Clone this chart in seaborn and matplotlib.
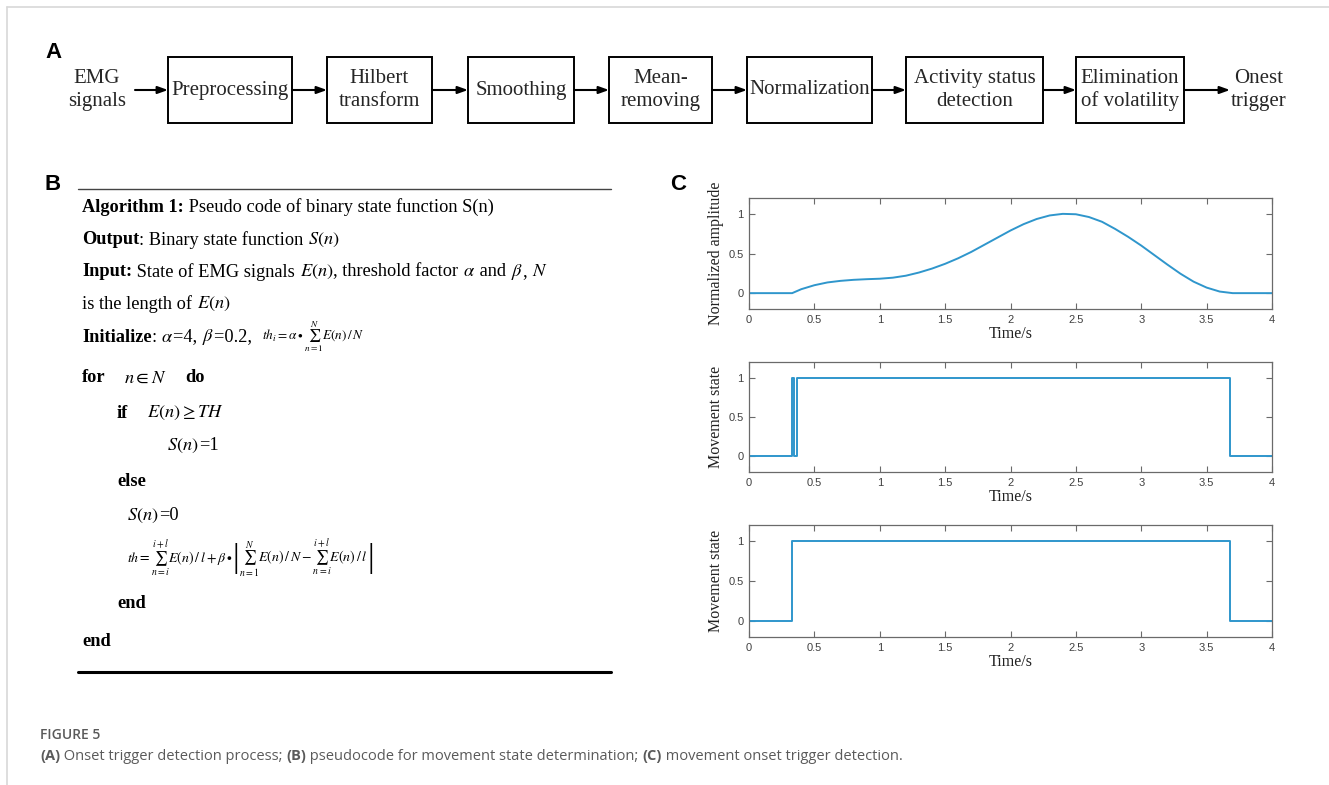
import numpy as np
import pandas as pd
import seaborn as sns
import matplotlib.pyplot as plt
from matplotlib.patches import Rectangle

# ---------------- data ----------------
flow_input = "EMG\nsignals"
flow_steps = ["Preprocessing", "Hilbert\ntransform", "Smoothing", "Mean-\nremoving",
              "Normalization", "Activity status\ndetection", "Elimination\nof volatility"]
flow_output = "Onest\ntrigger"

amp_time = [0.0, 0.33, 0.4, 0.5, 0.6, 0.7, 0.8, 0.9, 1.0, 1.1, 1.2, 1.3, 1.4, 1.5,
            1.6, 1.7, 1.8, 1.9, 2.0, 2.1, 2.2, 2.3, 2.4, 2.5, 2.6, 2.7, 2.8, 2.9,
            3.0, 3.1, 3.2, 3.3, 3.4, 3.5, 3.6, 3.7, 4.0]
amp_value = [0.0, 0.0, 0.05, 0.10, 0.135, 0.155, 0.168, 0.176, 0.182, 0.195, 0.22,
             0.26, 0.31, 0.37, 0.44, 0.52, 0.61, 0.70, 0.79, 0.87, 0.935, 0.98, 1.0,
             0.995, 0.96, 0.90, 0.81, 0.71, 0.60, 0.48, 0.36, 0.245, 0.145, 0.07,
             0.02, 0.0, 0.0]

raw_state_time = [0.0, 0.33, 0.345, 0.365, 3.68, 4.0]
raw_state = [0, 1, 0, 1, 0, 0]

final_state_time = [0.0, 0.33, 3.68, 4.0]
final_state = [0, 1, 0, 0]

x_ticks = [0, 0.5, 1, 1.5, 2, 2.5, 3, 3.5, 4]
x_tick_labels = ["0", "0.5", "1", "1.5", "2", "2.5", "3", "3.5", "4"]
y_ticks = [0, 0.5, 1]
y_tick_labels = ["0", "0.5", "1"]
x_label = "Time/s"
y_labels = ["Normalized amplitude", "Movement state", "Movement state"]

caption_title = "FIGURE 5"

# ---------------- style ----------------
sns.set_theme(style="white")
plt.rcParams["font.family"] = ["Liberation Serif", "DejaVu Serif"]
plt.rcParams["mathtext.fontset"] = "stix"

W, H = 1329, 785
fig = plt.figure(figsize=(W / 100, H / 100), dpi=100)
fig.patch.set_facecolor("white")

# overlay axes in pixel coordinates
ov = fig.add_axes([0, 0, 1, 1])
ov.set_xlim(0, W)
ov.set_ylim(H, 0)
ov.axis("off")
ov.set_zorder(5)
ov.patch.set_alpha(0)

# frame lines
ov.plot([7, W], [7, 7], color="#d8d8d8", lw=1.2)
ov.plot([7, 7], [7, H], color="#d8d8d8", lw=1.2)

SANS = ["Liberation Sans", "DejaVu Sans"]
SERIF = ["Liberation Serif", "DejaVu Serif"]

# panel labels
for lab, (lx, ly) in zip("ABC", [(45, 52), (45, 185), (670, 185)]):
    ov.text(lx, ly, lab, family=SANS, fontweight="bold", fontsize=16,
            ha="left", va="center", color="black")

# ---------------- panel A ----------------
box_x = [(168, 292), (327, 432), (468, 574), (609, 712), (747, 872), (906, 1043), (1076, 1184)]
box_top, box_bot = 57, 123
ymid = (box_top + box_bot) / 2
fs_flow = 15

ov.text(97, ymid, flow_input, ha="center", va="center", fontsize=fs_flow,
        family=SERIF, linespacing=1.25)
ov.text(1259, ymid, flow_output, ha="center", va="center", fontsize=fs_flow,
        family=SERIF, linespacing=1.25)

def arrow(x0, x1, y):
    ov.annotate("", xy=(x1, y), xytext=(x0, y),
                arrowprops=dict(arrowstyle="-|>,head_length=0.5,head_width=0.18",
                                lw=1.5, color="black", shrinkA=0, shrinkB=0))

arrow(135, box_x[0][0], ymid)
for (x0, x1), label in zip(box_x, flow_steps):
    ov.add_patch(Rectangle((x0, box_top), x1 - x0, box_bot - box_top,
                           fill=False, ec="black", lw=1.4))
    ov.text((x0 + x1) / 2, ymid, label, ha="center", va="center",
            fontsize=fs_flow, family=SERIF, linespacing=1.25)
for i in range(len(box_x) - 1):
    arrow(box_x[i][1], box_x[i + 1][0], ymid)
arrow(box_x[-1][1], 1230, ymid)

# ---------------- panel B ----------------
fig.canvas.draw()
renderer = fig.canvas.get_renderer()

def runs(x, y, parts, fs=13.2):
    for txt, bold, size in parts:
        t = ov.text(x, y, txt, ha="left", va="center", family=SERIF,
                    fontsize=size if size else fs,
                    fontweight="bold" if bold else "normal", color="black")
        bb = t.get_window_extent(renderer)
        x += bb.width

ov.plot([78, 611], [189, 189], color="#444444", lw=1.0)
ov.plot([78, 611], [672, 672], color="black", lw=2.2)

LX = 82
runs(LX, 207, [("Algorithm 1:", True, None), (" Pseudo code of binary state function S(n)", False, None)])
runs(LX, 240, [("Output", True, None), (": Binary state function ", False, None), (r"$S(n)$", False, None)])
runs(LX, 272, [("Input:", True, None), (" State of EMG signals ", False, None), (r"$E(n)$", False, None),
               (", threshold factor ", False, None), (r"$\alpha$", False, None), (" and ", False, None),
               (r"$\beta$", False, None), (", ", False, None), (r"$N$", False, None)])
runs(LX, 304, [("is the length of ", False, None), (r"$E(n)$", False, None)])
runs(LX, 337, [("Initialize", True, None), (": ", False, None), (r"$\alpha$", False, None), ("=4, ", False, None),
               (r"$\beta$", False, None), ("=0.2,  ", False, None),
               (r"$th_i=\alpha\bullet\sum_{n=1}^{N}E(n)\,/\,N$", False, 9.5)])
runs(LX, 378, [("for", True, None), ("    ", False, None), (r"$n\in N$", False, None),
               ("    ", False, None), ("do", True, None)])
runs(117, 413, [("if", True, None), ("    ", False, None), (r"$E(n)\geq TH$", False, None)])
runs(167, 446, [(r"$S(n)$", False, None), ("=1", False, None)])
runs(117, 481, [("else", True, None)])
runs(127, 516, [(r"$S(n)$", False, None), ("=0", False, None)])
runs(127, 559, [(r"$th=\sum_{n=i}^{i+l}E(n)\,/\,l+\beta\bullet$", False, 10),
                ("|", False, 24),
                (r"$\sum_{n=1}^{N}E(n)\,/\,N-\sum_{n=i}^{i+l}E(n)\,/\,l$", False, 10),
                ("|", False, 24)])
runs(117, 603, [("end", True, None)])
runs(LX, 642, [("end", True, None)])

# ---------------- panel C ----------------
ax_px = [(749, 198, 1272, 309), (749, 362, 1272, 472), (749, 525, 1272, 637)]
series = [(amp_time, amp_value, "default"), (raw_state_time, raw_state, "steps-post"),
          (final_state_time, final_state, "steps-post")]
line_color = "#2f96cc"
spine_color = "#6a6a6a"

for (x0, y0, x1, y1), (tx, vy, ds), ylab in zip(ax_px, series, y_labels):
    ax = fig.add_axes([x0 / W, 1 - y1 / H, (x1 - x0) / W, (y1 - y0) / H])
    df = pd.DataFrame({"t": tx, "v": vy})
    sns.lineplot(data=df, x="t", y="v", ax=ax, color=line_color, linewidth=1.4,
                 estimator=None, sort=False, drawstyle=ds)
    ax.set_xlim(0, 4)
    ax.set_ylim(-0.2, 1.2)
    ax.set_xticks(x_ticks)
    ax.set_xticklabels(x_tick_labels)
    ax.set_yticks(y_ticks)
    ax.set_yticklabels(y_tick_labels)
    ax.tick_params(direction="in", length=4, width=0.8, color=spine_color,
                   labelsize=8, labelcolor="#404040", top=True, right=True,
                   bottom=True, left=True, pad=4)
    for lbl in ax.get_xticklabels() + ax.get_yticklabels():
        lbl.set_family(SANS)
    for s in ax.spines.values():
        s.set_visible(True)
        s.set_color(spine_color)
        s.set_linewidth(0.9)
    ax.set_xlabel(x_label, fontsize=11.5, family=SERIF, labelpad=1, color="#222222")
    ax.set_ylabel(ylab, fontsize=11.5, family=SERIF, labelpad=3, color="#222222")
    ax.set_facecolor("white")

# ---------------- caption ----------------
ov.text(40, 735, caption_title, family=["Open Sans", "DejaVu Sans"], fontweight="semibold",
        fontsize=10, color="#5a5a5a", ha="left", va="center")

cap_parts = [("(A)", True), (" Onset trigger detection process; ", False), ("(B)", True),
             (" pseudocode for movement state determination; ", False), ("(C)", True),
             (" movement onset trigger detection.", False)]
cx = 40
for txt, bold in cap_parts:
    t = ov.text(cx, 756, txt, family=["Open Sans", "DejaVu Sans"],
                fontweight="bold" if bold else "normal", fontsize=10.5,
                color="#5a5a5a", ha="left", va="center")
    cx += t.get_window_extent(renderer).width

fig.savefig("out.png", dpi=100, facecolor="white")
